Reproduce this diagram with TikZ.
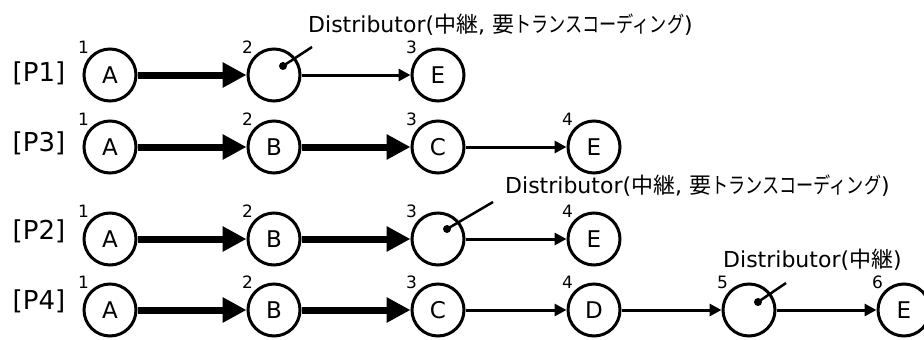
\documentclass[tikz,border=0pt]{standalone}
\usepackage{fontspec}
\setmainfont{DejaVu Sans}
\newfontfamily\cjk{Noto Sans CJK JP}
\newfontfamily\kana{Noto Sans CJK JP}[FakeStretch=0.78]
\usetikzlibrary{arrows.meta}
\begin{document}
\begin{tikzpicture}[x=1pt,y=-1pt,
  station/.style={circle,draw,line width=3pt,minimum size=52pt,inner sep=0pt,font=\fontsize{23}{27}\selectfont},
  fatarrow/.style={line width=7pt,-{Triangle[length=24pt,width=24pt]}},
  thinarrow/.style={line width=3pt,-{Triangle[length=12pt,width=12pt]}},
  rowlabel/.style={font=\fontsize{26}{30}\selectfont,inner sep=0pt},
  num/.style={font=\fontsize{17}{20}\selectfont,inner sep=0pt,label distance=2pt},
  dlabel/.style={font=\fontsize{22}{26}\selectfont,inner sep=0pt,anchor=base west},
  distdot/.style={circle,fill,inner sep=0pt,minimum size=8pt},
  pointer/.style={line width=2.5pt}
]
\useasboundingbox (0,0) rectangle (924,340);
\clip (0,0) rectangle (924,340);

% Row 1 [P1]
\node[rowlabel] (l1) at (39,73) {[P1]};
\node[station,label={[num]135:1}] (a1) at (110,75) {A};
\node[station,label={[num]135:2}] (d1) at (274,75) {};
\node[station,label={[num]135:3}] (e1) at (438,75) {E};
\draw[fatarrow] (a1) -- (d1);
\draw[thinarrow] (d1) -- (e1);
\node[distdot] (p1) at (283,66) {};
\coordinate (q1) at (312,47);
\draw[pointer] (p1.center) -- (q1);
\node[dlabel] (t1) at (308,32) {Distributor({\cjk 中継}, {\cjk 要}{\kana トランスコーディング})};

% Row 2 [P3]
\node[rowlabel] (l2) at (39,143) {[P3]};
\node[station,label={[num]135:1}] (a2) at (110,147) {A};
\node[station,label={[num]135:2}] (b2) at (274,147) {B};
\node[station,label={[num]135:3}] (c2) at (438,147) {C};
\node[station,label={[num]135:4}] (e2) at (594,147) {E};
\draw[fatarrow] (a2) -- (b2);
\draw[fatarrow] (b2) -- (c2);
\draw[thinarrow] (c2) -- (e2);

% Row 3 [P2]
\node[rowlabel] (l3) at (39,231) {[P2]};
\node[station,label={[num]135:1}] (a3) at (110,239) {A};
\node[station,label={[num]135:2}] (b3) at (274,239) {B};
\node[station,label={[num]135:3}] (d3) at (438,239) {};
\node[station,label={[num]135:4}] (e3) at (594,239) {E};
\draw[fatarrow] (a3) -- (b3);
\draw[fatarrow] (b3) -- (d3);
\draw[thinarrow] (d3) -- (e3);
\node[distdot] (p3) at (447,229) {};
\coordinate (q3) at (493,202);
\draw[pointer] (p3.center) -- (q3);
\node[dlabel] (t3) at (505,193) {Distributor({\cjk 中継}, {\cjk 要}{\kana トランスコーディング})};

% Row 4 [P4]
\node[rowlabel] (l4) at (39,301) {[P4]};
\node[station,label={[num]135:1}] (a4) at (110,310) {A};
\node[station,label={[num]135:2}] (b4) at (274,310) {B};
\node[station,label={[num]135:3}] (c4) at (438,310) {C};
\node[station,label={[num]135:4}] (d4) at (594,310) {D};
\node[station,label={[num]135:5}] (x4) at (749,310) {};
\node[station,label={[num]135:6}] (e4) at (904,310) {E};
\draw[fatarrow] (a4) -- (b4);
\draw[fatarrow] (b4) -- (c4);
\draw[thinarrow] (c4) -- (d4);
\draw[thinarrow] (d4) -- (x4);
\draw[thinarrow] (x4) -- (e4);
\node[distdot] (p4) at (758,302) {};
\coordinate (q4) at (786,283);
\draw[pointer] (p4.center) -- (q4);
\node[dlabel] (t4) at (723,267) {Distributor({\cjk 中継})};
\end{tikzpicture}
\end{document}
